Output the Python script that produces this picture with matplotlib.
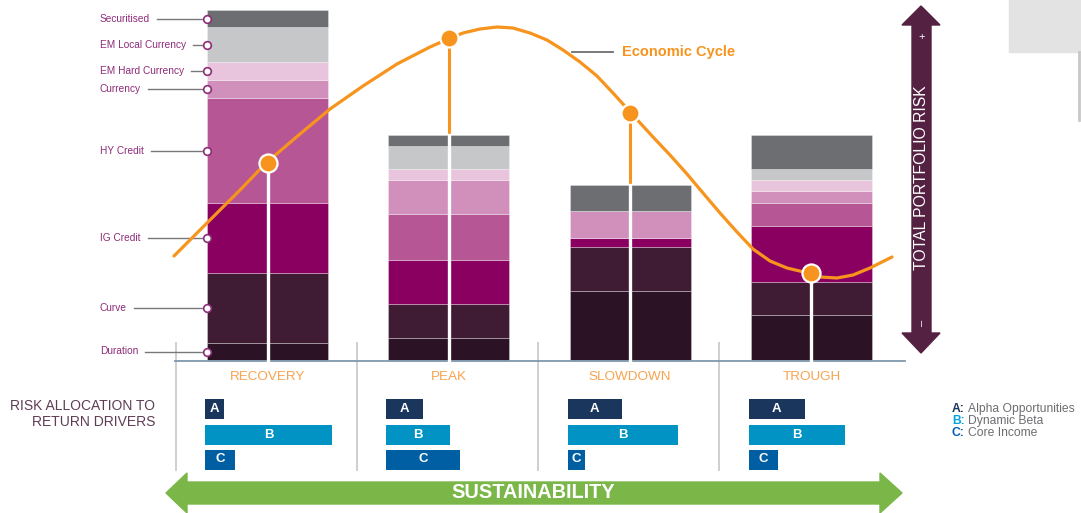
import numpy as np
import matplotlib
matplotlib.use("Agg")
import matplotlib.pyplot as plt
from matplotlib.patches import Polygon, Rectangle

plt.rcParams['font.family'] = ['Liberation Sans', 'DejaVu Sans']

# phases of the cycle
phases = ["RECOVERY", "PEAK", "SLOWDOWN", "TROUGH"]

# stacked risk buckets, bottom to top
buckets = ["Duration", "Curve", "IG Credit", "HY Credit", "Currency",
           "EM Hard Currency", "EM Local Currency", "Securitised"]
duration = [17, 22, 69, 45]
curve = [70, 34, 44, 33]
ig_credit = [70, 44, 9, 56]
hy_credit = [105, 46, 0, 23]
currency = [18, 34, 27, 12]
em_hard = [18, 11, 0, 11]
em_local = [35, 23, 0, 11]
securitised = [17, 11, 26, 34]
bucket_colors = ["#2b1225", "#3f1b34", "#8a0060", "#b65694", "#d18fbb",
                 "#e8c5dd", "#c6c7c9", "#6d6e71"]

# economic cycle line (x position, height above baseline)
cycle_x = [174, 207, 243, 266, 300, 330, 363, 397, 430, 448, 463, 480, 497,
           513, 530, 547, 563, 580, 597, 613, 623, 631, 653, 670, 687, 703,
           720, 737, 753, 770, 787, 808, 820, 837, 853, 870, 892]
cycle_y = [104, 137, 173, 197, 226, 251, 274, 296, 313, 321, 327, 331, 333,
           332, 327, 320, 310, 298, 284, 267, 256, 247, 223, 205, 186, 167,
           147, 128, 111, 99, 92, 87, 83, 82, 85, 92, 103]
phase_point = [197, 322, 247, 87]

# risk allocation to return drivers
alpha = [19, 37, 54, 56]
beta = [127, 64, 110, 96]
core = [30, 74, 17, 29]
driver_colors = ["#1b365d", "#0093c4", "#005ea2"]

W, H = 1081, 513
BASE = 153
centers = 267.5 + 181.3 * np.arange(len(phases))
bw = 121

fig = plt.figure(figsize=(W / 100, H / 100), dpi=100)
ax = fig.add_axes([0, 0, 1, 1])
ax.set_xlim(0, W)
ax.set_ylim(0, H)
ax.axis('off')

# stacked bars
stack = [duration, curve, ig_credit, hy_credit, currency, em_hard, em_local, securitised]
bottom = np.zeros(len(phases))
mids = []
for vals, col in zip(stack, bucket_colors):
    vals = np.array(vals, dtype=float)
    ax.bar(centers, vals, width=bw, bottom=BASE + bottom, color=col,
           edgecolor=(1, 1, 1, 0.35), linewidth=0.6, zorder=2)
    mids.append(BASE + bottom[0] + vals[0] / 2)
    bottom += vals
tops = bottom

# baseline
ax.plot([175, 905], [BASE - 1, BASE - 1], color="#7f97ad", lw=1.3, zorder=3)

# left bucket labels
fig.canvas.draw()
rend = fig.canvas.get_renderer()
inv = ax.transData.inverted()
for name, ym in zip(buckets, mids):
    t = ax.text(100, ym, name, fontsize=7.3, color="#8e2c7a", va='center', ha='left')
    bb = t.get_window_extent(rend)
    x_end = inv.transform((bb.x1, bb.y0))[0]
    ax.plot([x_end + 7, centers[0] - bw / 2], [ym, ym], color="#77787b", lw=1.0, zorder=3)
    ax.plot(centers[0] - bw / 2, ym, 'o', ms=5.5, mfc='white', mec="#8e2c7a", mew=1.2, zorder=4)

# drop lines from the cycle points
for cx, py, top in zip(centers, phase_point, tops):
    lo = min(py, top)
    if py > top:
        ax.plot([cx, cx], [BASE + top, BASE + py], color="#f7941d", lw=2.2, zorder=3)
    ax.plot([cx, cx], [BASE, BASE + lo], color="white", lw=2.4, zorder=3)

# cycle curve
ax.plot(cycle_x, BASE + np.array(cycle_y), color="#f7941d", lw=2.3,
        solid_capstyle='round', solid_joinstyle='round', zorder=5)
ax.plot(centers, BASE + np.array(phase_point), 'o', ms=13, mfc="#f7941d",
        mec='white', mew=1.6, zorder=6)
ax.plot([572, 613], [461, 461], color="#6d6e71", lw=1.3)
ax.text(622, 461, "Economic Cycle", fontsize=10.5, fontweight='bold',
        color="#f7941d", va='center', ha='left')

# phase names and separators
for i, cx in enumerate(centers):
    ax.text(cx, 136, phases[i], fontsize=9.7, color="#f7a350", ha='center', va='center')
    ax.plot([cx - 92, cx - 92], [43, 170], color="#cfcfcf", lw=1.4, zorder=1)

# return driver boxes
rows = [(alpha, 104, "A"), (beta, 78.5, "B"), (core, 53.5, "C")]
for (vals, yc, letter), col in zip(rows, driver_colors):
    left = centers - bw / 2 - 2
    ax.barh(yc, vals, height=20, left=left, color=col, zorder=2)
    for l, v in zip(left, vals):
        ax.text(l + v / 2, yc, letter, fontsize=9.5, fontweight='bold', color='white',
                ha='center', va='center', zorder=3)

ax.text(155, 107, "RISK ALLOCATION TO", fontsize=10, color="#5e3d55", ha='right', va='center')
ax.text(155, 91, "RETURN DRIVERS", fontsize=10, color="#5e3d55", ha='right', va='center')

legend = [("A:", "Alpha Opportunities", "#1b365d"),
          ("B:", "Dynamic Beta", "#00a3e0"),
          ("C:", "Core Income", "#005eb8")]
for j, (lt, txt, col) in enumerate(legend):
    yy = 104 - 12 * j
    ax.text(952, yy, lt, fontsize=8.7, fontweight='bold', color=col, va='center')
    ax.text(968, yy, txt, fontsize=8.7, color="#6d6e71", va='center')

# sustainability arrow
green = Polygon([(166, 20), (187, 40), (187, 31), (880, 31), (880, 40), (902, 20),
                 (880, 0), (880, 9), (187, 9), (187, 0)], closed=True,
                color="#7ab648", zorder=2)
ax.add_patch(green)
ax.text(533, 20, "SUSTAINABILITY", fontsize=14.3, fontweight='bold', color='white',
        ha='center', va='center', zorder=3)

# total portfolio risk arrow
purple = Polygon([(921, 507), (940, 488), (931, 488), (931, 180), (940, 180), (921, 160),
                  (902, 180), (912, 180), (912, 488), (902, 488)], closed=True,
                 color="#542142", zorder=2)
ax.add_patch(purple)
ax.text(922, 335, "TOTAL PORTFOLIO RISK", fontsize=11.3, color='white', rotation=90,
        ha='center', va='center', zorder=3)
ax.text(922, 476, "+", fontsize=8, color='white', ha='center', va='center', zorder=3)
ax.text(922, 190, "\u2013", fontsize=8, color='white', ha='center', va='center',
        rotation=90, zorder=3)

# corner decoration
ax.add_patch(Rectangle((1009, 461), 72, 52, color="#e3e3e3", zorder=1))
ax.plot([1079, 1079], [393, 461], color="#c8c8c8", lw=2)

fig.savefig("out.png", dpi=100)
